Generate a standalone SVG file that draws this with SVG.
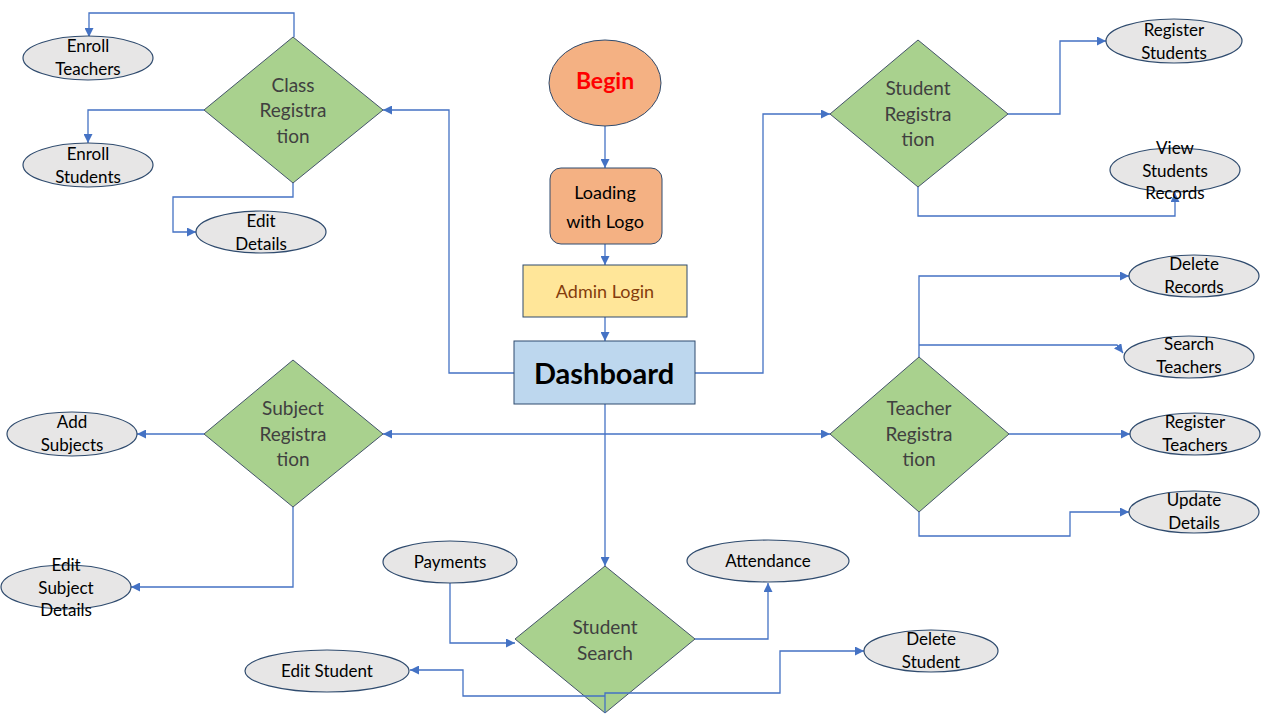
<svg xmlns="http://www.w3.org/2000/svg" width="1280" height="720" viewBox="0 0 1280 720">
<defs>
<marker id="arr" viewBox="0 0 10 10" refX="10" refY="5" markerWidth="9" markerHeight="9" markerUnits="userSpaceOnUse" orient="auto">
<path d="M0,0 L10,5 L0,10 z" fill="#4472C4"/>
</marker>
<marker id="arrs" viewBox="0 0 10 10" refX="0" refY="5" markerWidth="9" markerHeight="9" markerUnits="userSpaceOnUse" orient="auto">
<path d="M10,0 L0,5 L10,10 z" fill="#4472C4"/>
</marker>
</defs>
<style>
.c{fill:none;stroke:#4472C4;stroke-width:1.3}
.dia{fill:#A9D18E;stroke:#44546A;stroke-width:1}
.ell{fill:#E7E6E6;stroke:#2F4B6E;stroke-width:1.2}
.dt{font-family:Lato,"Liberation Sans",sans-serif;font-size:19px;fill:#404040;text-anchor:middle}
.et{font-family:Lato,"Liberation Sans",sans-serif;font-size:17px;fill:#000;text-anchor:middle}
</style>
<rect width="1280" height="720" fill="#fff"/>
<g id="connectors">
<path class="c" d="M294,37 V13 H89 V37" marker-end="url(#arr)"/>
<path class="c" d="M204,110 H88 V143" marker-end="url(#arr)"/>
<path class="c" d="M293,183 V197 H173 V232 H196" marker-end="url(#arr)"/>
<path class="c" d="M514,373 H449 V110 H383" marker-end="url(#arr)"/>
<path class="c" d="M605,126 V168" marker-end="url(#arr)"/>
<path class="c" d="M605,244 V265" marker-end="url(#arr)"/>
<path class="c" d="M605,317 V341" marker-end="url(#arr)"/>
<path class="c" d="M695,373 H763 V114 H830" marker-end="url(#arr)"/>
<path class="c" d="M1008,114 H1060 V41 H1106" marker-end="url(#arr)"/>
<path class="c" d="M918,187 V216 H1175 V193" marker-end="url(#arr)"/>
<path class="c" d="M919,357 V276 H1129" marker-end="url(#arr)"/>
<path class="c" d="M919,345 H1117 L1123,353" marker-end="url(#arr)"/>
<path class="c" d="M1009,434 H1130" marker-end="url(#arr)"/>
<path class="c" d="M919,512 V536 H1070 V512 H1129" marker-end="url(#arr)"/>
<path class="c" d="M383,434 H830" marker-start="url(#arrs)" marker-end="url(#arr)"/>
<path class="c" d="M605,404 V566" marker-end="url(#arr)"/>
<path class="c" d="M204,434 H137" marker-end="url(#arr)"/>
<path class="c" d="M293,507 V587 H131" marker-end="url(#arr)"/>
<path class="c" d="M450,583 V643 H515" marker-end="url(#arr)"/>
<path class="c" d="M695,639 H768 V583" marker-end="url(#arr)"/>
</g>
<g id="class-registration">
<polygon class="dia" points="293,37 383,110 293,183 204,110"/>
<text class="dt" x="293" y="92">Class</text>
<text class="dt" x="293" y="117">Registra</text>
<text class="dt" x="293" y="143">tion</text>
</g>
<g id="enroll-teachers">
<ellipse class="ell" cx="88" cy="58" rx="65" ry="22"/>
<text class="et" x="88" y="52">Enroll</text>
<text class="et" x="88" y="75">Teachers</text>
</g>
<g id="enroll-students">
<ellipse class="ell" cx="88" cy="165" rx="65" ry="22"/>
<text class="et" x="88" y="160">Enroll</text>
<text class="et" x="88" y="183">Students</text>
</g>
<g id="edit-details">
<ellipse class="ell" cx="261" cy="232" rx="65" ry="21"/>
<text class="et" x="261" y="227">Edit</text>
<text class="et" x="261" y="250">Details</text>
</g>
<g id="begin">
<ellipse cx="605" cy="83" rx="56" ry="43" fill="#F4B183" stroke="#2F4B6E" stroke-width="1"/>
<text x="605" y="89" text-anchor="middle" font-family="Lato,'Liberation Sans',sans-serif" font-size="23" font-weight="bold" fill="#FF0000">Begin</text>
</g>
<g id="loading">
<rect x="550" y="168" width="112" height="76" rx="11" fill="#F4B183" stroke="#2F4B6E" stroke-width="1"/>
<text x="605" y="199" text-anchor="middle" font-family="Lato,'Liberation Sans',sans-serif" font-size="18" fill="#000">Loading</text>
<text x="605" y="228" text-anchor="middle" font-family="Lato,'Liberation Sans',sans-serif" font-size="18" fill="#000">with Logo</text>
</g>
<g id="admin-login">
<rect x="523" y="265" width="164" height="52" fill="#FFE699" stroke="#2F4B6E" stroke-width="1"/>
<text x="605" y="298" text-anchor="middle" font-family="Lato,'Liberation Sans',sans-serif" font-size="18" fill="#843C0C">Admin Login</text>
</g>
<g id="dashboard">
<rect x="514" y="341" width="181" height="63" fill="#BDD7EE" stroke="#2F4B6E" stroke-width="1"/>
<text x="604" y="384" text-anchor="middle" font-family="Lato,'Liberation Sans',sans-serif" font-size="29" font-weight="bold" fill="#000">Dashboard</text>
</g>
<g id="student-registration">
<polygon class="dia" points="918,40 1008,114 918,187 830,114"/>
<text class="dt" x="918" y="95">Student</text>
<text class="dt" x="918" y="121">Registra</text>
<text class="dt" x="918" y="146">tion</text>
</g>
<g id="register-students">
<ellipse class="ell" cx="1174" cy="41" rx="68" ry="22"/>
<text class="et" x="1174" y="36">Register</text>
<text class="et" x="1174" y="59">Students</text>
</g>
<g id="view-students-records">
<ellipse class="ell" cx="1175" cy="170" rx="65" ry="22"/>
<text class="et" x="1175" y="154">View</text>
<text class="et" x="1175" y="177">Students</text>
<text class="et" x="1175" y="199">Records</text>
</g>
<g id="teacher-registration">
<polygon class="dia" points="919,357 1009,434 919,512 830,434"/>
<text class="dt" x="919" y="415">Teacher</text>
<text class="dt" x="919" y="441">Registra</text>
<text class="dt" x="919" y="466">tion</text>
</g>
<g id="delete-records">
<ellipse class="ell" cx="1194" cy="276" rx="65" ry="21"/>
<text class="et" x="1194" y="270">Delete</text>
<text class="et" x="1194" y="293">Records</text>
</g>
<g id="search-teachers">
<ellipse class="ell" cx="1189" cy="357" rx="65" ry="21"/>
<text class="et" x="1189" y="350">Search</text>
<text class="et" x="1189" y="373">Teachers</text>
</g>
<g id="register-teachers">
<ellipse class="ell" cx="1195" cy="434" rx="65" ry="21"/>
<text class="et" x="1195" y="428">Register</text>
<text class="et" x="1195" y="451">Teachers</text>
</g>
<g id="update-details">
<ellipse class="ell" cx="1194" cy="512" rx="65" ry="21"/>
<text class="et" x="1194" y="506">Update</text>
<text class="et" x="1194" y="529">Details</text>
</g>
<g id="subject-registration">
<polygon class="dia" points="293,360 383,434 293,507 204,434"/>
<text class="dt" x="293" y="415">Subject</text>
<text class="dt" x="293" y="441">Registra</text>
<text class="dt" x="293" y="466">tion</text>
</g>
<g id="add-subjects">
<ellipse class="ell" cx="72" cy="434" rx="65" ry="22"/>
<text class="et" x="72" y="428">Add</text>
<text class="et" x="72" y="451">Subjects</text>
</g>
<g id="edit-subject-details">
<ellipse class="ell" cx="66" cy="587" rx="65" ry="22"/>
<text class="et" x="66" y="571">Edit</text>
<text class="et" x="66" y="594">Subject</text>
<text class="et" x="66" y="616">Details</text>
</g>
<g id="student-search">
<polygon class="dia" points="605,566 695,639 605,713 515,639"/>
<text class="dt" x="605" y="634">Student</text>
<text class="dt" x="605" y="660">Search</text>
</g>
<g id="connectors-bottom">
<path class="c" d="M605,696 H463 V670 H410" marker-end="url(#arr)"/>
<path class="c" d="M605,713 V693 H780 V651 H864" marker-end="url(#arr)"/>
</g>
<g id="payments">
<ellipse class="ell" cx="450" cy="562" rx="67" ry="21"/>
<text class="et" x="450" y="568">Payments</text>
</g>
<g id="attendance">
<ellipse class="ell" cx="768" cy="561" rx="81" ry="21"/>
<text class="et" x="768" y="567">Attendance</text>
</g>
<g id="edit-student">
<ellipse class="ell" cx="327" cy="671" rx="82" ry="21"/>
<text class="et" x="327" y="677">Edit Student</text>
</g>
<g id="delete-student">
<ellipse class="ell" cx="931" cy="651" rx="67" ry="21"/>
<text class="et" x="931" y="645">Delete</text>
<text class="et" x="931" y="668">Student</text>
</g>
</svg>
